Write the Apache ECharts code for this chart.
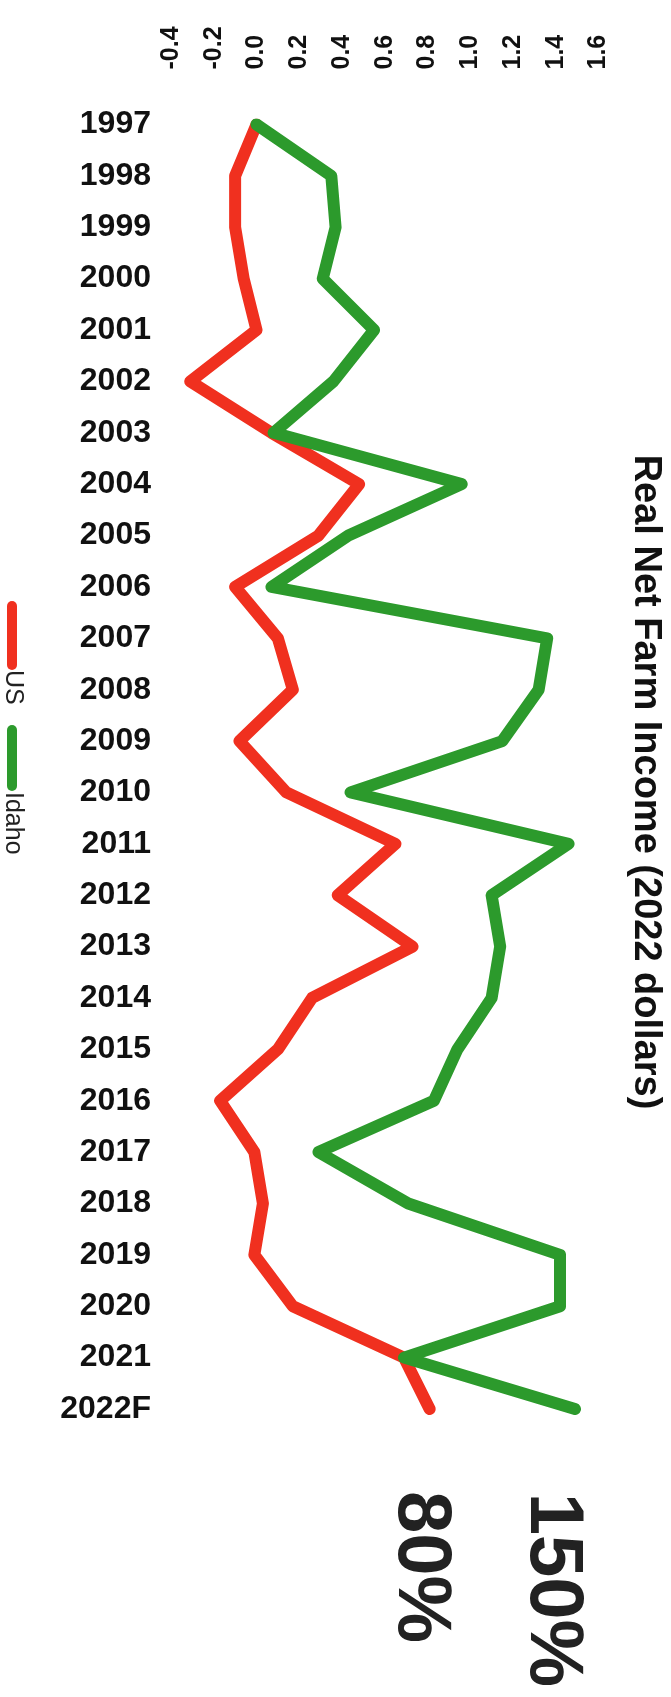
<!DOCTYPE html>
<html><head><meta charset="utf-8">
<script src="https://cdn.jsdelivr.net/npm/echarts@6/dist/echarts.min.js"></script>
<style>html,body{margin:0;padding:0;background:#fff}#c{width:671px;height:1697px}</style>
</head><body><div id="c"></div>
<script>
var years = ['1997','1998','1999','2000','2001','2002','2003','2004','2005','2006','2007','2008','2009','2010','2011','2012','2013','2014','2015','2016','2017','2018','2019','2020','2021','2022F'];
var usValues = [0, -0.10, -0.10, -0.06, 0.0, -0.31, 0.07, 0.48, 0.29, -0.10, 0.10, 0.17, -0.08, 0.14, 0.65, 0.38, 0.73, 0.26, 0.10, -0.17, -0.01, 0.03, -0.01, 0.17, 0.69, 0.81];
var idahoValues = [0, 0.35, 0.37, 0.31, 0.55, 0.36, 0.08, 0.96, 0.43, 0.07, 1.36, 1.32, 1.15, 0.44, 1.46, 1.10, 1.14, 1.10, 0.94, 0.83, 0.29, 0.71, 1.42, 1.42, 0.69, 1.49];
var valueTicks = [-0.4, 1.6, 0.2];
var titleText = 'Real Net Farm Income (2022 dollars)';
var seriesNames = ['US', 'Idaho'];
var annotations = ['150%', '80%'];

var RED = '#f0301f', GREEN = '#2c9a2c';
var FF = '"Liberation Sans", Arial, sans-serif';
var chart = echarts.init(document.getElementById('c'), null, {renderer: 'canvas'});
var R = -Math.PI / 2;
chart.setOption({
  animation: false,
  backgroundColor: '#fff',
  grid: {left: 171, top: 124.5, width: 427.5, height: 1284.5, containLabel: false},
  xAxis: {
    type: 'value', position: 'top', min: valueTicks[0], max: valueTicks[1], interval: valueTicks[2],
    axisLine: {show: false}, axisTick: {show: false}, splitLine: {show: false},
    axisLabel: {rotate: -90, margin: 55, color: '#111', fontFamily: FF, fontWeight: 'bold', fontSize: 25,
      formatter: function (v) { return v.toFixed(1); }}
  },
  yAxis: {
    type: 'category', inverse: true, boundaryGap: false, data: years,
    axisLine: {show: false}, axisTick: {show: false}, splitLine: {show: false},
    axisLabel: {margin: 20, color: '#111', fontFamily: FF, fontWeight: 'bold', fontSize: 32}
  },
  series: [
    {name: seriesNames[0], type: 'line', data: usValues, showSymbol: false, clip: false,
      lineStyle: {color: RED, width: 12, cap: 'round', join: 'round'}, itemStyle: {color: RED}, z: 2},
    {name: seriesNames[1], type: 'line', data: idahoValues, showSymbol: false, clip: false,
      lineStyle: {color: GREEN, width: 12, cap: 'round', join: 'round'}, itemStyle: {color: GREEN}, z: 3}
  ],
  graphic: [
    {type: 'text', x: 645, y: 782, rotation: R,
      style: {text: titleText, fill: '#111', font: 'bold 38px ' + FF, textAlign: 'center', textVerticalAlign: 'middle'}},
    {type: 'line', shape: {x1: 12, y1: 606, x2: 12, y2: 665}, style: {stroke: RED, lineWidth: 10, lineCap: 'round'}},
    {type: 'text', x: 13, y: 670, rotation: R,
      style: {text: seriesNames[0], fill: '#222', font: '25px ' + FF, textAlign: 'left', textVerticalAlign: 'middle'}},
    {type: 'line', shape: {x1: 12, y1: 730, x2: 12, y2: 786}, style: {stroke: GREEN, lineWidth: 10, lineCap: 'round'}},
    {type: 'text', x: 13, y: 792, rotation: R,
      style: {text: seriesNames[1], fill: '#222', font: '25px ' + FF, textAlign: 'left', textVerticalAlign: 'middle'}},
    {type: 'text', x: 552, y: 1590, rotation: R,
      style: {text: annotations[0], fill: '#222', font: 'bold 76px ' + FF, textAlign: 'center', textVerticalAlign: 'middle'}},
    {type: 'text', x: 420, y: 1567, rotation: R,
      style: {text: annotations[1], fill: '#222', font: 'bold 76px ' + FF, textAlign: 'center', textVerticalAlign: 'middle'}}
  ]
});
</script></body></html>
